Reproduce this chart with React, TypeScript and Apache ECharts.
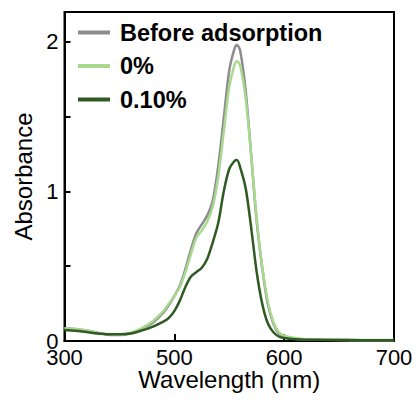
import React, { useEffect, useRef } from "react";
import * as echarts from "echarts";

const wavelengths = [400, 410, 420, 430, 440, 450, 460, 470, 480, 490, 495, 500, 505, 510, 515, 520, 525, 530, 535, 540, 545, 550, 555, 557, 560, 565, 570, 575, 580, 585, 590, 595, 600, 610, 620, 640, 660, 680, 700];

const beforeAdsorption = [0.085, 0.08, 0.07, 0.055, 0.042, 0.04, 0.05, 0.08, 0.12, 0.19, 0.24, 0.3, 0.37, 0.48, 0.61, 0.72, 0.78, 0.84, 0.94, 1.17, 1.49, 1.81, 1.96, 1.98, 1.94, 1.67, 1.24, 0.8, 0.49, 0.25, 0.12, 0.05, 0.03, 0.015, 0.01, 0.008, 0.006, 0.005, 0.005];

const zeroPercent = [0.085, 0.08, 0.07, 0.055, 0.045, 0.042, 0.055, 0.085, 0.13, 0.2, 0.25, 0.3, 0.36, 0.46, 0.58, 0.69, 0.74, 0.8, 0.9, 1.1, 1.4, 1.7, 1.85, 1.87, 1.84, 1.62, 1.24, 0.82, 0.5, 0.27, 0.13, 0.06, 0.035, 0.02, 0.012, 0.009, 0.007, 0.006, 0.006];

const tenthPercent = [0.073, 0.068, 0.06, 0.05, 0.045, 0.045, 0.05, 0.07, 0.095, 0.13, 0.155, 0.2, 0.27, 0.36, 0.43, 0.46, 0.49, 0.55, 0.66, 0.79, 1.0, 1.15, 1.205, 1.21, 1.16, 1.02, 0.755, 0.46, 0.25, 0.12, 0.06, 0.03, 0.02, 0.012, 0.009, 0.007, 0.006, 0.005, 0.005];

const seriesNames = ["Before adsorption", "0%", "0.10%"];
const seriesColors = ["#8c8c8c", "#a8d98e", "#2f5a22"];

const xTickValues = [400, 500, 600, 700];
const xTickLabels = ["300", "500", "600", "700"];
const yTickLabels = ["0", "1", "2"];

const FONT = "'Liberation Sans', Arial, sans-serif";

export default function App() {
  const ref = useRef<HTMLDivElement>(null);
  useEffect(() => {
    if (!ref.current) return;
    const chart = echarts.init(ref.current, undefined, { renderer: "svg" });
    const values = [beforeAdsorption, zeroPercent, tenthPercent];
    chart.setOption({
      animation: false,
      grid: {
        left: 64.5,
        right: 24,
        top: 12,
        bottom: 60,
        show: true,
        borderColor: "#000",
        borderWidth: 2,
        containLabel: false,
      },
      legend: {
        orient: "vertical",
        left: 78,
        top: 20.5,
        padding: 0,
        itemWidth: 32,
        itemHeight: 4,
        itemGap: 9.5,
        icon: "rect",
        data: seriesNames,
        textStyle: {
          fontFamily: FONT,
          fontSize: 23.5,
          fontWeight: "bold",
          color: "#000",
          lineHeight: 23,
          padding: [0, 0, 0, 5],
        },
      },
      xAxis: {
        type: "value",
        min: 400,
        max: 700,
        interval: 100,
        name: "Wavelength (nm)",
        nameLocation: "middle",
        nameGap: 26,
        nameMoveOverlap: false,
        nameTextStyle: { fontFamily: FONT, fontSize: 24, color: "#000", lineHeight: 24 },
        axisLine: { show: true, lineStyle: { color: "#000", width: 2 } },
        axisTick: { show: true, inside: true, length: 7, lineStyle: { color: "#000", width: 2 } },
        axisLabel: {
          fontFamily: FONT,
          fontSize: 22,
          color: "#000",
          margin: 8,
          lineHeight: 16,
          formatter: (v: number) => {
            const i = xTickValues.indexOf(v);
            return i >= 0 ? xTickLabels[i] : "";
          },
        },
        splitLine: { show: false },
      },
      yAxis: {
        type: "value",
        min: 0,
        max: 2.2,
        interval: 0.5,
        name: "Absorbance",
        nameLocation: "middle",
        nameGap: 29,
        nameMoveOverlap: false,
        nameTextStyle: { fontFamily: FONT, fontSize: 24, color: "#000" },
        axisLine: { show: true, lineStyle: { color: "#000", width: 2 } },
        axisTick: { show: true, inside: true, length: 6, lineStyle: { color: "#000", width: 2 } },
        axisLabel: {
          fontFamily: FONT,
          fontSize: 22,
          color: "#000",
          margin: 6,
          lineHeight: 16,
          showMaxLabel: false,
          formatter: (v: number) => {
            const s = String(v);
            return yTickLabels.indexOf(s) >= 0 ? s : "";
          },
        },
        splitLine: { show: false },
      },
      series: seriesNames.map((name, i) => ({
        name,
        type: "line",
        data: wavelengths.map((w, j) => [w, values[i][j]]),
        showSymbol: false,
        symbol: "none",
        smooth: 0.3,
        lineStyle: { color: seriesColors[i], width: 2.5 },
        itemStyle: { color: seriesColors[i] },
        z: 2 + i,
      })),
    });
    return () => chart.dispose();
  }, []);
  return <div ref={ref} style={{ position: "absolute", left: 0, top: 0, width: 418, height: 401 }} />;
}
